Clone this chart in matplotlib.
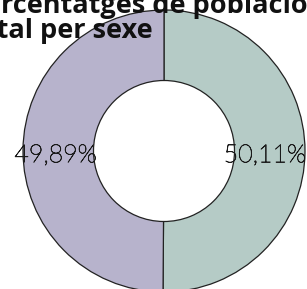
import matplotlib
matplotlib.use('Agg')
import matplotlib.pyplot as plt
import matplotlib.patheffects as pe

# Data
labels = ['Dones', 'Homes']
values = [50.11, 49.89]
pct_text = ['50,11%', '49,89%']
colors = ['#b5cbc6', '#b7b3cc']
title = 'Percentatges de població\ntotal per sexe'

W, H = 307, 289
fig = plt.figure(figsize=(W / 100, H / 100), dpi=100)
fig.patch.set_facecolor('white')

# donut centred at (164, 151) px, outer radius 141 px
cx, cy, r = 164, 151, 141
ax = fig.add_axes([(cx - r) / W, (H - cy - r) / H, 2 * r / W, 2 * r / H])
wedges, _ = ax.pie(values, colors=colors, startangle=90, counterclock=False,
                   wedgeprops=dict(width=0.5, edgecolor='#222222', linewidth=0.9))
ax.set_xlim(-1, 1)
ax.set_ylim(-1, 1)
ax.set_aspect('equal')
ax.axis('off')

# percentage labels in the middle of the ring
thick = [pe.withStroke(linewidth=0.5, foreground='#1a1a1a')]
ax.text(0.715, -0.03, pct_text[0], ha='center', va='center', fontsize=18,
        family='Lato', fontweight='light', color='#1a1a1a', path_effects=thick)
ax.text(-0.77, -0.03, pct_text[1], ha='center', va='center', fontsize=18,
        family='Lato', fontweight='light', color='#1a1a1a', path_effects=thick)

fig.text(-32 / W, 1 - 38 / H, title, ha='left', va='baseline', fontsize=19.5,
         family='Open Sans', fontweight='bold', color='#111111', linespacing=0.95)

fig.savefig('out.png', dpi=100)
